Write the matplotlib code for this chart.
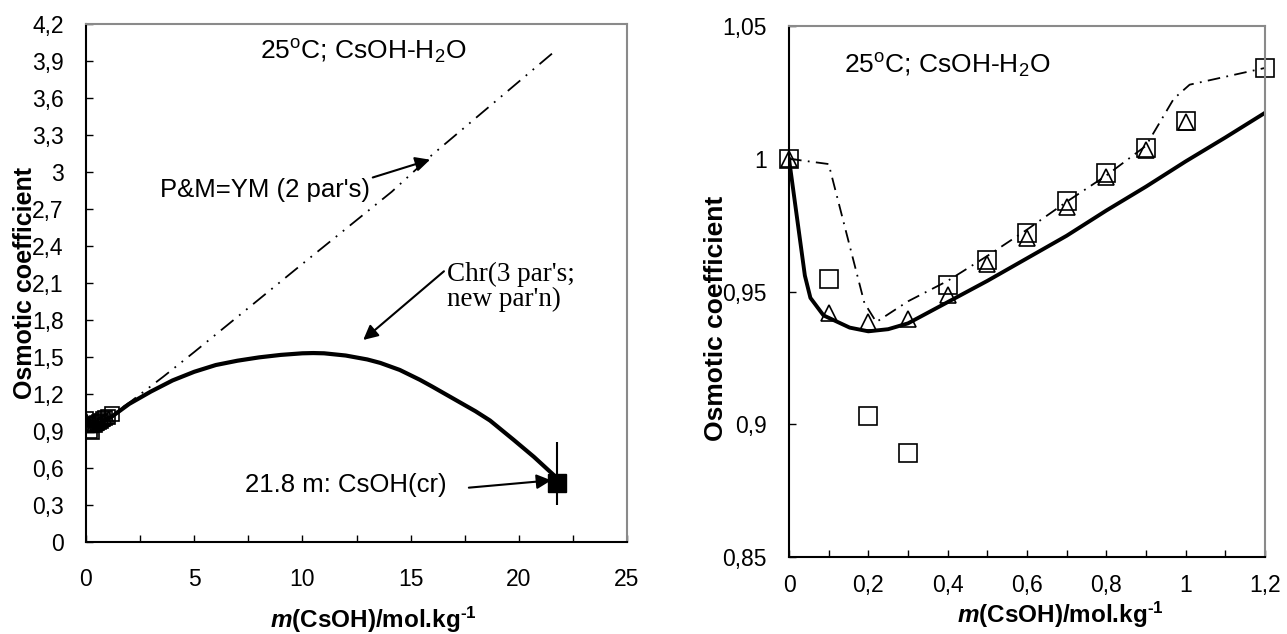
import matplotlib
matplotlib.use("Agg")
import matplotlib.pyplot as plt
from matplotlib.ticker import MultipleLocator, FuncFormatter

plt.rcParams['font.family'] = ['Liberation Sans', 'DejaVu Sans']
plt.rcParams['mathtext.fontset'] = 'custom'
plt.rcParams['mathtext.rm'] = 'Liberation Sans:bold'
plt.rcParams['mathtext.it'] = 'Liberation Sans:italic:bold'
plt.rcParams['mathtext.bf'] = 'Liberation Sans:bold'

# ---------------- data ----------------
# experimental points (low molality)
m_sq = [0, 0.1, 0.2, 0.3, 0.4, 0.5, 0.6, 0.7, 0.8, 0.9, 1.0, 1.2]
phi_sq = [1.0, 0.9546, 0.9032, 0.8893, 0.9526, 0.9618, 0.9721, 0.984, 0.9946, 1.004, 1.0142, 1.0342]
m_tri = [0, 0.1, 0.2, 0.3, 0.4, 0.5, 0.6, 0.7, 0.8, 0.9, 1.0]
phi_tri = [1.0, 0.942, 0.9387, 0.9396, 0.9486, 0.9605, 0.970, 0.982, 0.993, 1.0034, 1.014]

# right panel: Chr model (solid) and P&M (dash-dot)
m_chr_low = [0, 0.02, 0.04, 0.054, 0.087, 0.153, 0.2, 0.25, 0.3, 0.4, 0.5, 0.6, 0.7, 0.8, 0.9, 1.0, 1.1, 1.2]
phi_chr_low = [1.0, 0.978, 0.956, 0.9476, 0.941, 0.9364, 0.935, 0.9358, 0.938, 0.946, 0.954, 0.9625,
               0.971, 0.9805, 0.9895, 0.999, 1.008, 1.0173]
m_pm_low = [0, 0.1, 0.19, 0.22, 0.3, 0.4, 0.5, 0.6, 0.7, 0.8, 0.9, 0.97, 1.01, 1.2]
phi_pm_low = [1.0, 0.998, 0.9457, 0.9385, 0.9463, 0.954, 0.9634, 0.9733, 0.9838, 0.9937, 1.0049,
              1.0226, 1.0279, 1.0342]

# left panel: full range
m_chr = [0, 0.2, 0.6, 1.2, 2, 3, 4, 5, 6, 7, 8, 9, 10, 10.5, 11, 12, 13, 13.6, 14.5, 15.43, 16,
         17.1, 18, 18.67, 19.75, 20.7, 21.6, 21.75]
phi_chr = [1.0, 0.935, 0.9625, 1.0173, 1.12, 1.22, 1.31, 1.38, 1.435, 1.47, 1.497, 1.517, 1.53, 1.532,
           1.53, 1.512, 1.48, 1.452, 1.395, 1.315, 1.26, 1.15, 1.06, 0.985, 0.83, 0.69, 0.545, 0.5]
m_ym = [0, 0.6, 1.2, 2, 3.57, 5, 7.8, 10, 14.13, 15.9, 21.67]
phi_ym = [1.0, 0.973, 1.034, 1.13, 1.34, 1.54, 1.94, 2.255, 2.84, 3.125, 3.98]

# saturation point CsOH(cr)
m_sat = [21.75]
phi_sat = [0.48]
err_lo = [0.18]
err_hi = [0.33]

W, H = 1287, 634
fig = plt.figure(figsize=(W / 100, H / 100), dpi=100)


def px_axes(l, t, r, b):
    return fig.add_axes([l / W, 1 - b / H, (r - l) / W, (b - t) / H])


def comma(v, pos):
    s = f"{round(v, 4):g}"
    return s.replace('.', ',')


def style(ax, xpad):
    for s in ['left', 'bottom']:
        ax.spines[s].set_color('black')
        ax.spines[s].set_linewidth(1.5)
    for s in ['top', 'right']:
        ax.spines[s].set_color('#8a8a8a')
        ax.spines[s].set_linewidth(1.5)
    ax.tick_params(which='both', direction='in', length=5, width=1.0, labelsize=16.5)
    ax.tick_params(axis='y', pad=16)
    ax.tick_params(axis='x', pad=xpad)
    ax.xaxis.set_major_formatter(FuncFormatter(comma))
    ax.yaxis.set_major_formatter(FuncFormatter(comma))


dashdotdot = (0, (9, 4, 1, 4, 1, 4))
dashdot = (0, (7, 3.5, 1, 3.5))
xlabel_txt = r'$\mathit{m}$(CsOH)/mol.kg$^{\text{-1}}$'

# ---------------- left panel ----------------
ax1 = px_axes(86, 24, 627, 542)
ax1.plot(m_ym, phi_ym, color='black', lw=1.3, linestyle=dashdotdot)
ax1.plot(m_chr, phi_chr, color='black', lw=3.0, solid_capstyle='round', solid_joinstyle='round')
ax1.plot(m_sq, phi_sq, linestyle='none', marker='s', ms=10, mfc='none', mec='black', mew=1.2)
ax1.plot(m_tri, phi_tri, linestyle='none', marker='^', ms=8, mfc='none', mec='black', mew=1.0)
ax1.errorbar(m_sat, phi_sat, yerr=[err_lo, err_hi], fmt='s', color='black', ms=13, elinewidth=1.5, capsize=0)
ax1.set_xlim(0, 25)
ax1.set_ylim(0, 4.2)
ax1.xaxis.set_major_locator(MultipleLocator(5))
ax1.xaxis.set_minor_locator(MultipleLocator(2.5))
ax1.yaxis.set_major_locator(MultipleLocator(0.3))
style(ax1, 19)

ax1.text(8.04, 3.97, r'25$^{\mathregular{o}}$C; CsOH-H$_{\mathregular{2}}$O', fontsize=19, ha='left', va='center')
ax1.annotate("P&M=YM (2 par's)", xy=(15.9, 3.10), xytext=(3.42, 2.855), fontsize=18.5,
             ha='left', va='center',
             arrowprops=dict(arrowstyle='-|>', color='black', lw=1.5, mutation_scale=22,
                             shrinkA=0, shrinkB=0, relpos=(0.86, 0.6)))
ax1.annotate("Chr(3 par's;\nnew par'n)", xy=(12.81, 1.638), xytext=(16.67, 2.27), fontsize=19.5,
             family=['Liberation Serif'], ha='left', va='top', linespacing=1.0,
             arrowprops=dict(arrowstyle='-|>', color='black', lw=1.5, mutation_scale=22,
                             shrinkA=0, shrinkB=0, relpos=(-0.02, 0.82)))
ax1.annotate("21.8 m: CsOH(cr)", xy=(21.5, 0.50), xytext=(7.35, 0.46), fontsize=18.5,
             ha='left', va='center',
             arrowprops=dict(arrowstyle='-|>', color='black', lw=1.5, mutation_scale=22,
                             shrinkA=0, shrinkB=0, relpos=(1.11, 0.4)))

fig.text(373 / W, 1 - 620 / H, xlabel_txt, fontsize=17.5,
         fontweight='bold', ha='center', va='center')
fig.text(25 / W, 1 - 283 / H, 'Osmotic coefficient', fontsize=18, fontweight='bold',
         rotation=90, ha='center', va='center')

# ---------------- right panel ----------------
ax2 = px_axes(789, 26, 1265, 557)
ax2.plot(m_pm_low, phi_pm_low, color='black', lw=1.3, linestyle=dashdot)
ax2.plot(m_chr_low, phi_chr_low, color='black', lw=2.8, solid_joinstyle='round')
ax2.plot(m_sq, phi_sq, linestyle='none', marker='s', ms=13, mfc='none', mec='black', mew=1.2, clip_on=False)
ax2.plot(m_tri, phi_tri, linestyle='none', marker='^', ms=12, mfc='none', mec='black', mew=1.2, clip_on=False)
ax2.set_xlim(0, 1.2)
ax2.set_ylim(0.85, 1.05)
ax2.xaxis.set_major_locator(MultipleLocator(0.2))
ax2.xaxis.set_minor_locator(MultipleLocator(0.1))
ax2.yaxis.set_major_locator(MultipleLocator(0.05))
style(ax2, 12)

ax2.text(0.139, 1.035, r'25$^{\mathregular{o}}$C; CsOH-H$_{\mathregular{2}}$O', fontsize=19, ha='left', va='center')

fig.text(1060 / W, 1 - 615 / H, xlabel_txt, fontsize=17.5,
         fontweight='bold', ha='center', va='center')
fig.text(716 / W, 1 - 318 / H, 'Osmotic coefficient', fontsize=19, fontweight='bold',
         rotation=90, ha='center', va='center')

fig.savefig('out.png', dpi=100)
